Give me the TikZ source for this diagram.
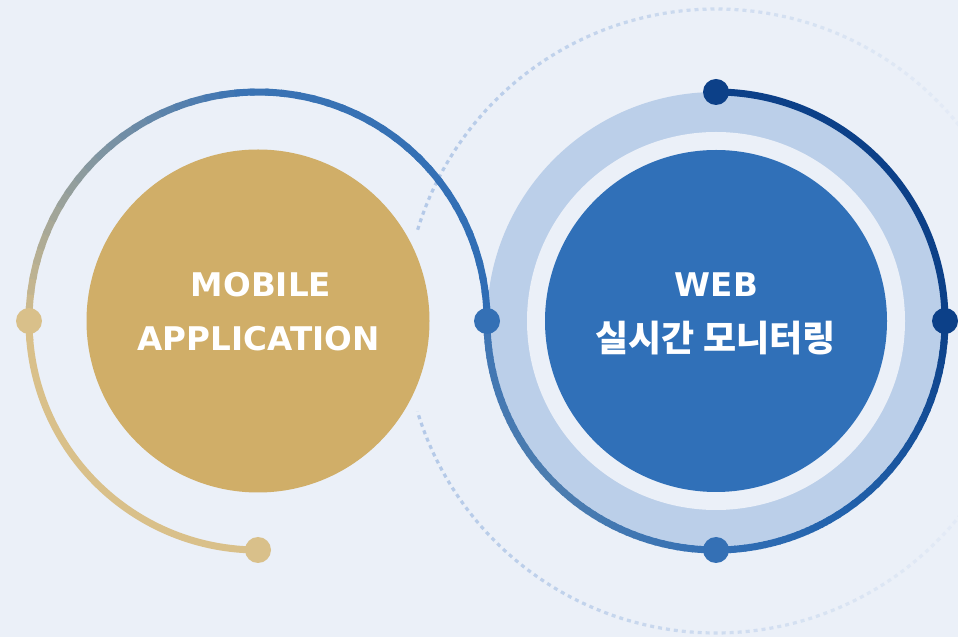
\documentclass[tikz,border=0pt]{standalone}
\usepackage{fontspec}
\setmainfont{DejaVu Sans}
\newfontfamily\krfont{Noto Sans CJK KR}
\definecolor{bg}{HTML}{EBF0F8}
\definecolor{gold}{HTML}{D0AE68}
\definecolor{goldL}{HTML}{D9C08A}
\definecolor{blueA}{HTML}{3A73B4}
\definecolor{arcblue}{HTML}{2F6DB5}
\definecolor{blueC}{HTML}{3070B8}
\definecolor{ring}{HTML}{BBCFE9}
\definecolor{navy}{HTML}{0C4088}
\definecolor{navyB}{HTML}{2363AD}
\definecolor{midB}{HTML}{3470B5}
\definecolor{grayB}{HTML}{4D7DAF}
\definecolor{leftB}{HTML}{3F75B4}
\definecolor{dotc}{HTML}{B2C8E7}
\newcommand\myarcgrad[6]{%
  \pgfmathsetmacro\st{(#4-#3)/24}%
  \foreach \k in {0,...,23}{%
    \pgfmathsetmacro\aa{#3+\k*\st}%
    \pgfmathsetmacro\bb{\aa+\st*1.3}%
    \pgfmathtruncatemacro\pp{100-\k*100/23}%
    \draw[arcline, draw=#5!\pp!#6] (#1) ++(\aa:#2) arc[start angle=\aa, end angle=\bb, radius=#2];
  }}
\begin{document}
\begin{tikzpicture}[x=1pt,y=1pt,
  arcline/.style={line width=7pt},
  dotnode/.style={circle, inner sep=0pt, minimum size=26pt},
  txt/.style={text=white, font=\bfseries\fontsize{32.6}{36}\selectfont, inner sep=0pt, anchor=base},
  krtxt/.style={text=white, font=\krfont\bfseries\fontsize{36}{40}\selectfont, inner sep=0pt, anchor=base}]
\useasboundingbox (0,0) rectangle (958,637);
\clip (0,0) rectangle (958,637);
\fill[bg] (0,0) rectangle (958,637);
\coordinate (L) at (258,316);
\coordinate (R) at (716,316);
% dotted outer arc, fading to the right
\foreach \i in {0,...,73}{%
  \pgfmathsetmacro\a{163-\i*4.4074}%
  \pgfmathsetmacro\xx{716+312*cos(\a-2.2)}%
  \pgfmathtruncatemacro\p{max(0,min(100,100-(\xx-404)/6.4))}%
  \draw[draw=dotc!\p!bg, line width=3.2pt, dash pattern=on 4pt off 4pt]
    (R) ++(\a:312pt) arc[start angle=\a, end angle=\a-4.4074, radius=312pt];
}
% right ring and circle
\fill[ring] (R) circle[radius=229pt];
\fill[bg] (R) circle[radius=189pt];
\node[circle, fill=blueC, minimum size=342pt, inner sep=0pt] (web) at (R) {};
% left circle
\node[circle, fill=gold, minimum size=343pt, inner sep=0pt] (mobile) at (L) {};
% left gradient arc
\draw[arcline, draw=goldL] (L) ++(270:229pt) arc[start angle=270, end angle=184, radius=229pt];
\myarcgrad{L}{229pt}{185}{92}{goldL}{blueA}
\myarcgrad{L}{229pt}{92}{0}{blueA}{arcblue}
% right dark arc
\draw[arcline, draw=navy] (R) ++(90:229pt) arc[start angle=90, end angle=-2, radius=229pt];
\myarcgrad{R}{229pt}{0}{-60}{navy}{navyB}
\myarcgrad{R}{229pt}{-60}{-90}{navyB}{midB}
\myarcgrad{R}{229pt}{-90}{-135}{midB}{grayB}
\myarcgrad{R}{229pt}{-135}{-180}{grayB}{leftB}
% dots
\node[dotnode, fill=goldL] (dl) at ([shift={(180:229pt)}]L) {};
\node[dotnode, fill=goldL] (db) at ([shift={(270:229pt)}]L) {};
\node[dotnode, fill=midB] (dm) at ([shift={(0:229pt)}]L) {};
\node[dotnode, fill=navy] (dt) at ([shift={(90:229pt)}]R) {};
\node[dotnode, fill=navy] (dr) at ([shift={(0:229pt)}]R) {};
\node[dotnode, fill=midB] (dbr) at ([shift={(270:229pt)}]R) {};
% texts
\node[txt] (t1) at (261,340) {MOBILE};
\node[txt] (t2) at (258.5,286) {APPLICATION};
\node[txt] (t3) at (716.5,340) {WEB};
\node[krtxt] (t4) at (715.5,285) {실시간 모니터링};
\end{tikzpicture}
\end{document}
